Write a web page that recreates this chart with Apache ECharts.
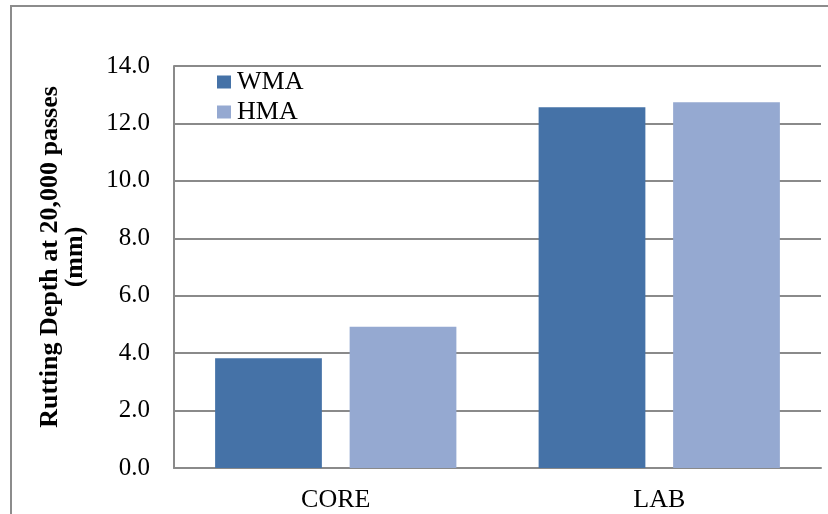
<!DOCTYPE html>
<html>
<head>
<meta charset="utf-8">
<script src="https://cdn.jsdelivr.net/npm/echarts@6/dist/echarts.min.js"></script>
<style>
html,body{margin:0;padding:0;background:#fff;}
#c{width:828px;height:514px;}
</style>
</head>
<body>
<div id="c"></div>
<script>
var categories = ['CORE', 'LAB'];
var wmaValues = [3.82, 12.56];
var hmaValues = [4.92, 12.74];
var seriesNames = ['WMA', 'HMA'];
var yTicks = {min: 0, max: 14, interval: 2};
var yTitle = 'Rutting Depth at 20,000 passes\n(mm)';

var FONT = '"Liberation Serif", "Times New Roman", serif';
var chart = echarts.init(document.getElementById('c'));
chart.setOption({
  animation: false,
  backgroundColor: '#fff',
  graphic: [{
    type: 'rect',
    shape: {x: 11, y: 6, width: 900, height: 600},
    style: {fill: 'none', stroke: '#8c8c8c', lineWidth: 2},
    silent: true,
    z: -1
  }],
  grid: {left: 174, right: 7, top: 66, bottom: 46},
  legend: {
    orient: 'vertical',
    left: 212,
    top: 64,
    itemWidth: 14,
    itemHeight: 13,
    itemGap: 4,
    icon: 'rect',
    data: seriesNames,
    textStyle: {fontFamily: FONT, fontSize: 26, color: '#000', lineHeight: 26, padding: [0, 0, 0, 1]}
  },
  xAxis: {
    type: 'category',
    data: categories,
    axisLine: {show: true, lineStyle: {color: '#8a8a8a', width: 2}},
    axisTick: {show: false},
    axisLabel: {fontFamily: FONT, fontSize: 26, color: '#000', margin: 19}
  },
  yAxis: {
    type: 'value',
    min: yTicks.min,
    max: yTicks.max,
    interval: yTicks.interval,
    name: yTitle,
    nameLocation: 'middle',
    nameRotate: 90,
    nameGap: 86,
    nameTextStyle: {fontFamily: FONT, fontSize: 26, fontWeight: 'bold', color: '#000', lineHeight: 25, padding: [0, 0, 0, 20]},
    axisLine: {show: true, lineStyle: {color: '#8a8a8a', width: 2}},
    axisTick: {show: false},
    splitLine: {show: true, lineStyle: {color: '#8a8a8a', width: 2}},
    axisLabel: {
      fontFamily: FONT, fontSize: 25, color: '#000', margin: 24,
      formatter: function (v) { return v.toFixed(1); }
    }
  },
  series: [{
    name: seriesNames[0],
    type: 'bar',
    data: wmaValues,
    barWidth: '33%',
    barGap: '26%',
    itemStyle: {color: '#4572A7'}
  }, {
    name: seriesNames[1],
    type: 'bar',
    data: hmaValues,
    barWidth: '33%',
    barGap: '26%',
    itemStyle: {color: '#95A9D1'}
  }]
});
</script>
</body>
</html>
